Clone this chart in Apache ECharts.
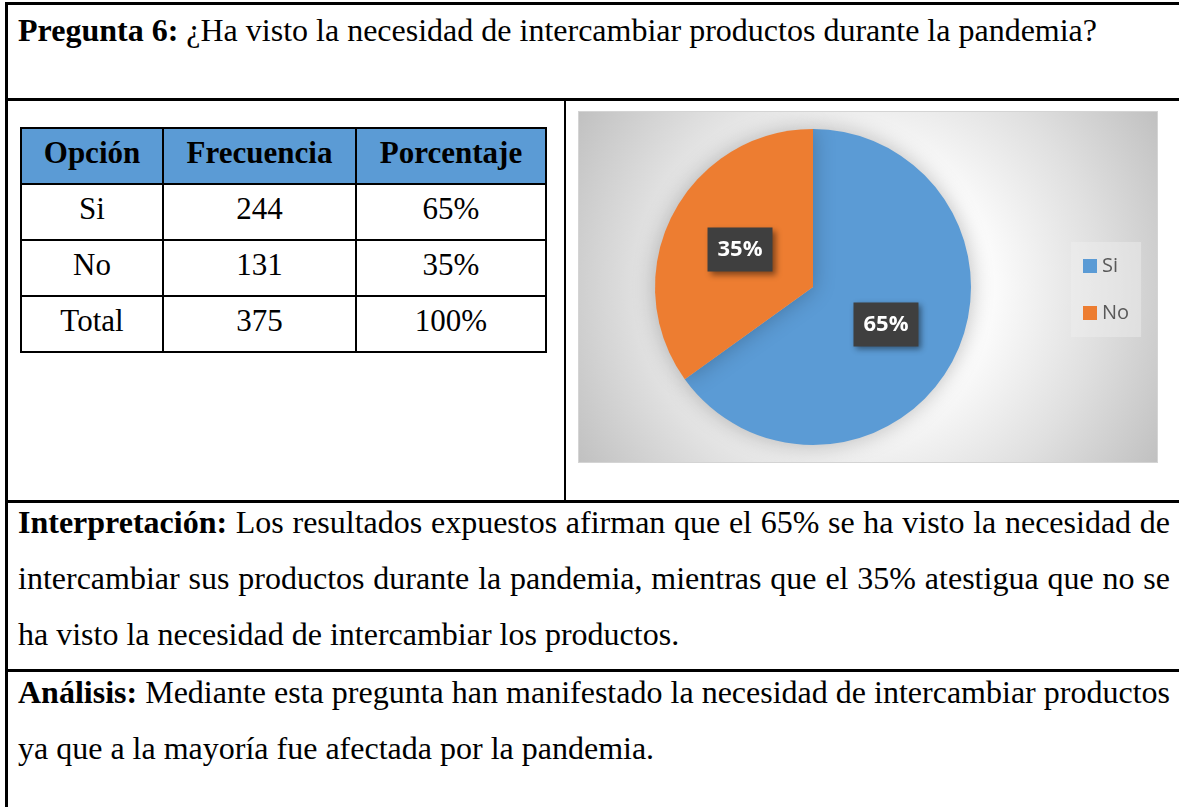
<!DOCTYPE html>
<html>
<head>
<meta charset="utf-8">
<script src="https://cdn.jsdelivr.net/npm/echarts@6/dist/echarts.min.js"></script>
<style>
  html, body { margin: 0; padding: 0; background: #fff; }
  body { width: 1179px; height: 807px; position: relative; overflow: hidden;
         font-family: 'Liberation Serif', 'Times New Roman', serif; color: #000; }
  .hl { position: absolute; background: #000; }
  .txt { position: absolute; font-size: 32px; line-height: 56px; white-space: nowrap; }
  .just { text-align: justify; text-align-last: justify; }
  #tabla { position: absolute; left: 20px; top: 127px; border-collapse: collapse; table-layout: fixed; }
  #tabla td, #tabla th { border: 2px solid #000; height: 54px; padding: 0; text-align: center;
         vertical-align: top; font-size: 31px; line-height: 48px; }
  #tabla th { background: #5b9bd5; font-weight: bold; }
  #chart { position: absolute; left: 578px; top: 111px; width: 580px; height: 352px;
           box-sizing: border-box; border: 1px solid #d4d4d4; }
</style>
</head>
<body>
<!-- marco del documento -->
<div class="hl" style="left:5px;top:2px;width:1174px;height:3px"></div>
<div class="hl" style="left:5px;top:2px;width:3px;height:805px"></div>
<div class="hl" style="left:5px;top:98px;width:1174px;height:3px"></div>
<div class="hl" style="left:564px;top:98px;width:2px;height:404px"></div>
<div class="hl" style="left:5px;top:500px;width:1174px;height:3px"></div>
<div class="hl" style="left:5px;top:669px;width:1174px;height:3px"></div>

<div class="txt" style="left:18px;top:10px;line-height:40px"><b>Pregunta 6:</b> ¿Ha visto la necesidad de intercambiar productos durante la pandemia?</div>

<table id="tabla"></table>

<div id="chart"></div>

<div class="txt just" style="left:18px;top:494px;width:1152px"><b>Interpretación:</b> Los resultados expuestos afirman que el 65% se ha visto la necesidad de</div>
<div class="txt just" style="left:18px;top:550px;width:1152px">intercambiar sus productos durante la pandemia, mientras que el 35% atestigua que no se</div>
<div class="txt" style="left:18px;top:606px">ha visto la necesidad de intercambiar los productos.</div>
<div class="txt just" style="left:18px;top:664px;width:1152px"><b>Análisis:</b> Mediante esta pregunta han manifestado la necesidad de intercambiar productos</div>
<div class="txt" style="left:18px;top:720px">ya que a la mayoría fue afectada por la pandemia.</div>

<script>
// datos de la pregunta 6
var opciones = ['Si', 'No']
var frecuencia = [244, 131]
var porcentaje = [65, 35]
var encabezados = ['Opción', 'Frecuencia', 'Porcentaje']
var colores = ['#5b9bd5', '#ed7d31']

// tabla de frecuencias
var total = frecuencia.reduce(function(a, b) { return a + b }, 0)
var html = '<colgroup><col style="width:142px"><col style="width:193px"><col style="width:190px"></colgroup>'
html += '<tr>' + encabezados.map(function(h) { return '<th>' + h + '</th>' }).join('') + '</tr>'
opciones.forEach(function(op, i) {
  html += '<tr><td>' + op + '</td><td>' + frecuencia[i] + '</td><td>' + porcentaje[i] + '%</td></tr>'
})
html += '<tr><td>Total</td><td>' + total + '</td><td>100%</td></tr>'
document.getElementById('tabla').innerHTML = html

var chart = echarts.init(document.getElementById('chart'))
chart.setOption({
  animation: false,
  backgroundColor: {
    type: 'radial', x: 0.5, y: 0.5, r: 1,
    colorStops: [
      { offset: 0, color: '#ffffff' },
      { offset: 0.36, color: '#fbfbfb' },
      { offset: 0.66, color: '#e0e0e0' },
      { offset: 1, color: '#bdbdbd' }
    ]
  },
  color: colores,
  legend: {
    orient: 'vertical',
    left: 492,
    top: 130,
    padding: [14, 12, 14, 12],
    backgroundColor: 'rgba(240,240,240,0.45)',
    icon: 'rect',
    itemWidth: 14,
    itemHeight: 14,
    itemGap: 27,
    textStyle: { fontFamily: 'Open Sans', fontSize: 20, color: '#595959' },
    data: opciones
  },
  series: [{
    type: 'pie',
    center: [234, 175],
    radius: 158,
    startAngle: 90,
    clockwise: true,
    itemStyle: {
      shadowBlur: 22,
      shadowColor: 'rgba(0,0,0,0.25)'
    },
    label: {
      position: 'inside',
      formatter: function(p) { return porcentaje[p.dataIndex] + '%' },
      backgroundColor: '#3f3f3f',
      color: '#ffffff',
      fontFamily: 'Open Sans',
      fontWeight: 'bold',
      fontSize: 22,
      lineHeight: 22,
      padding: [11, 10, 11, 10],
      shadowBlur: 6,
      shadowOffsetX: 3,
      shadowOffsetY: 3,
      shadowColor: 'rgba(0,0,0,0.45)'
    },
    labelLine: { show: false },
    emphasis: { disabled: true },
    data: opciones.map(function(op, i) { return { name: op, value: frecuencia[i] } })
  }]
})
</script>
</body>
</html>
